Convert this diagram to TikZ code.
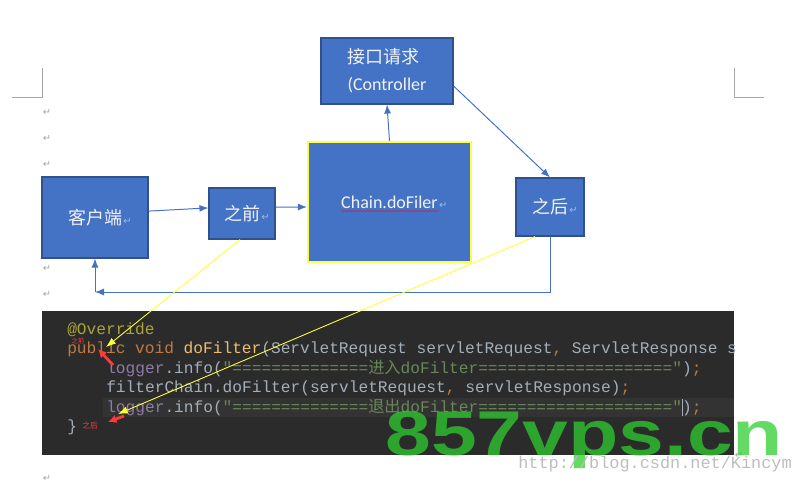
\documentclass[tikz,border=0pt]{standalone}
\usepackage{fontspec}
\setmainfont{Carlito}
\newfontfamily\cjk{Noto Sans CJK SC}
\newfontfamily\codefont{Liberation Mono}
\newfontfamily\wmfont{Liberation Sans}
\newfontfamily\symfont{DejaVu Sans}
\usetikzlibrary{arrows.meta,decorations.pathmorphing}
\definecolor{boxblue}{HTML}{4472C4}
\definecolor{boxedge}{HTML}{2F528F}
\definecolor{chainedge}{HTML}{FFFF4A}
\definecolor{panel}{HTML}{2B2B2B}
\definecolor{curline}{HTML}{333333}
\definecolor{kw}{HTML}{C07A40}
\definecolor{annot}{HTML}{A9A534}
\definecolor{meth}{HTML}{EDBE6E}
\definecolor{plain}{HTML}{A4AEB8}
\definecolor{field}{HTML}{8E7BA6}
\definecolor{str}{HTML}{6A8759}
\definecolor{markgray}{HTML}{A6A6A6}
\definecolor{wmgreen}{RGB}{47,205,47}
\definecolor{hint}{HTML}{FF3A3A}
\definecolor{pointer}{HTML}{FFFF33}
\definecolor{urlgray}{HTML}{BDBDBD}
\definecolor{spell}{HTML}{B0305A}
\newcommand\pmark{\rlap{\kern1pt\textcolor{white!50!boxblue}{\symfont\fontsize{7}{7}\selectfont ↵}}}
\tikzset{
  >={Latex[length=6.4pt,width=5pt]},
}
\tikzstyle{box}=[draw=boxedge,line width=0.8pt,fill=boxblue,text=white!95!black,inner sep=0pt,font=\fontsize{12.8}{19}\selectfont]
\tikzstyle{flow}=[draw=boxblue,line width=0.7pt,->]
\tikzstyle{pointer}=[draw=pointer,line width=0.6pt,-{Latex[length=7pt,width=5pt]},fill=pointer]
\tikzstyle{hintarrow}=[draw=hint,line width=2pt,-{Latex[length=6pt,width=6pt]}]
\tikzstyle{hinttag}=[text=hint,inner sep=0pt]
\tikzstyle{codeline}=[anchor=base west,inner sep=0pt,text=plain,font=\codefont\fontsize{11.5}{14}\selectfont]
\tikzstyle{pmark}=[text=markgray,inner sep=0pt,font=\symfont\fontsize{7}{7}\selectfont]

\begin{document}
\begin{tikzpicture}[x=0.025cm,y=-0.025cm]
    \useasboundingbox (0,0) rectangle (799,482);
    \draw[markgray,line width=0.5pt] (42,68) -- (42,97) -- (12,97);
    \draw[markgray,line width=0.5pt] (734,68) -- (734,97) -- (764,97);
    \foreach \y in {112,138,164,268,294,478}
      \node[pmark] (m\y) at (47,\y) {↵};

    \node[box,minimum width=2.65cm,minimum height=2.025cm] (client) at (95,217.5) {\cjk 客户端\pmark};
    \node[box,minimum width=1.65cm,minimum height=1.275cm] (before) at (242,213.5) {\cjk 之前\pmark};
    \node[box,draw=chainedge,line width=1.5pt,minimum width=4.075cm,minimum height=3cm] (chain) at (389.5,202) {Chain.doFiler\pmark};
    \node[box,align=left,minimum width=3.3cm,minimum height=1.65cm] (ctrl) at (387,71) {\cjk 接口请求\\(Controller};
    \node[box,minimum width=1.7cm,minimum height=1.45cm] (after) at (550,207) {\cjk 之后\pmark};
    \draw[spell,line width=0.5pt,decorate,decoration={snake,amplitude=0.45pt,segment length=2.6pt}] (341,211) -- (439,211);

    \draw[flow] ([yshift=0.16cm]client.east) -- ([yshift=0.14cm]before.west);
    \draw[flow] ([yshift=0.16cm]before.east) -- ([yshift=-0.125cm]chain.west);
    \draw[flow] (chain.north) -- (ctrl.south);
    \draw[flow] ([yshift=-0.375cm]ctrl.east) -- (after.north);
    \coordinate (back) at (95,292);
    \draw[flow] (after.south) |- (back);
    \draw[flow] (back) -- (client.south);

    \begin{scope}
      \clip (42,311) rectangle (734,455);
      \fill[panel] (42,311) rectangle (734,455);
      \fill[curline] (103,398) rectangle (734,417);
      \node[codeline,text=annot] (l1) at (67,334) {@Override};
      \node[codeline] (l2) at (67,353) {\textcolor{kw}{public void }\textcolor{meth}{doFilter}(ServletRequest servletRequest\textcolor{kw}{,} ServletResponse s};
      \node[codeline] (l3) at (106,373) {\textcolor{field}{logger}.info(\textcolor{str}{"==============\cjk 进入\codefont doFilter===================="})\textcolor{kw}{;}};
      \node[codeline] (l4) at (106,392) {filterChain.doFilter(servletRequest\textcolor{kw}{,} servletResponse)\textcolor{kw}{;}};
      \node[codeline] (l5) at (106,412) {\textcolor{field}{logger}.info(\textcolor{str}{"==============\cjk 退出\codefont doFilter===================="}\rlap{\kern-0.2pt\textcolor{plain}{\rule[-3pt]{0.8pt}{12pt}}})\textcolor{kw}{;}};
      \node[codeline] (l6) at (67,431) {\}};
    \end{scope}
    \node[pmark] (mend) at (739,455) {↵};

    \node[hinttag,font=\cjk\fontsize{4.5}{5}\selectfont] (tagbefore) at (78,341) {之前};
    \node[hinttag,font=\cjk\fontsize{5.5}{6}\selectfont] (tagafter) at (90,426) {之后};
    \coordinate (hb) at (113,365);
    \coordinate (hbtip) at (98,349);
    \draw[hintarrow] (hb) -- (hbtip);
    \coordinate (ha) at (124,416);
    \coordinate (hatip) at (108,422);
    \draw[hintarrow] (ha) -- (hatip);

    \coordinate (tipbefore) at (106,347);
    \coordinate (tipafter) at (118,414);
    \draw[pointer] ([xshift=-0.05cm]before.south) -- (tipbefore);
    \draw[pointer] ([xshift=-0.375cm]after.south) -- (tipafter);

    \node[anchor=base west,inner sep=0pt,text=wmgreen,text opacity=0.75,xscale=1.3,font=\wmfont\bfseries\fontsize{45}{45}\selectfont] (wm) at (385,455) {857vps.cn};
    \node[anchor=base west,inner sep=0pt,text=urlgray,font=\codefont\fontsize{12}{12}\selectfont] (url) at (518,468) {http://blog.csdn.net/Kincym};
  \end{tikzpicture}
\end{document}
